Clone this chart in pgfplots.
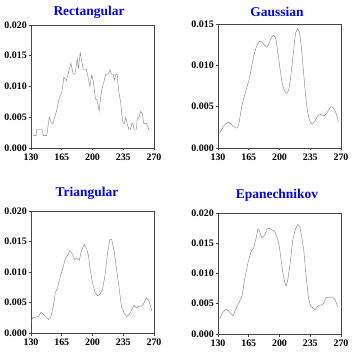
\documentclass[border=0pt]{standalone}
\usepackage{pgfplots}
\pgfplotsset{compat=1.18}
\usepackage{fontspec}
\setmainfont{Liberation Serif}
\definecolor{titleblue}{RGB}{0,0,255}
\definecolor{curvegray}{RGB}{125,125,125}
\definecolor{framegray}{RGB}{70,70,70}

\pgfplotsset{
  kernelpanel/.style={
    scale only axis,
    width=123bp,
    anchor=south west,
    xmin=130, xmax=270,
    ymin=0,
    xtick={130,165,200,235,270},
    scaled y ticks=false,
    axis line style={framegray, line width=0.9bp},
    tick style={framegray, line width=0.6bp},
    tick align=outside,
    major tick length=2.5bp,
    xtick pos=bottom, ytick pos=left,
    /pgf/number format/assume math mode=true,
    yticklabel style={font=\fontsize{10}{10}\selectfont\bfseries,
      /pgf/number format/fixed, /pgf/number format/fixed zerofill,
      /pgf/number format/precision=3, inner sep=0pt, xshift=-1.5bp},
    xticklabel style={font=\fontsize{10}{10}\selectfont\bfseries, inner sep=0pt, yshift=-3bp},
    cycle list={{curvegray, line width=0.6bp, mark=none}},
  },
}
\tikzset{paneltitle/.style={font=\fontsize{13.5}{14}\selectfont\bfseries, text=titleblue}}

\begin{document}
\begin{tikzpicture}[x=1bp, y=1bp]
\useasboundingbox (0,0) rectangle (356,360);

% Rectangular kernel
\begin{axis}[kernelpanel, at={(31bp,212bp)}, height=123bp, ymax=0.020,
  ytick={0,0.005,0.010,0.015,0.020}]
\addplot coordinates {
(132.6,0.0020) (135.7,0.0020) (136.4,0.0030) (142,0.0030) (143,0.0028)
(144,0.0020) (147.8,0.0020) (150.8,0.0050) (153.5,0.0040) (155,0.0040)
(157,0.0050) (159,0.0060) (162,0.0080) (165,0.0090) (167.5,0.0115)
(170.5,0.0110) (173,0.0125) (175.4,0.0138) (178,0.0120) (180,0.0120)
(182.6,0.0145) (184,0.0130) (186,0.0155) (189.4,0.0128) (193,0.0128)
(195,0.0115) (197,0.0100) (199,0.0118) (200.8,0.0110) (203.4,0.0080)
(205.3,0.0078) (207.6,0.0060) (209,0.0080) (211,0.0098) (212.5,0.0105)
(215,0.0120) (217.7,0.0120) (219.7,0.0127) (221.6,0.0120) (223.5,0.0120)
(225,0.0110) (226.5,0.0120) (228,0.0120) (230,0.0090) (232,0.0075)
(233.3,0.0055) (234.8,0.0040) (236.3,0.0040) (237.8,0.0050) (239.3,0.0040)
(241.6,0.0030) (243,0.0030) (245,0.0040) (246,0.0040) (247.3,0.0030)
(250,0.0030) (251,0.0048) (253,0.0050) (254.9,0.0060) (256.8,0.0055)
(258.3,0.0040) (261.3,0.0040) (264.3,0.0030) (265.8,0.0030)
};
\end{axis}

% Gaussian kernel
\begin{axis}[kernelpanel, at={(218bp,212bp)}, height=124bp, ymax=0.015,
  ytick={0,0.005,0.010,0.015}]
\addplot+[smooth] coordinates {
(131.9,0.00185) (137.6,0.0028) (142.1,0.0031) (145.9,0.0028) (150.8,0.0024)
(153.5,0.0028) (157.2,0.0051) (162.2,0.0071) (165.9,0.0085) (169.7,0.0106)
(173.5,0.0122) (177.3,0.0129) (181,0.0127) (184.9,0.0122) (187.5,0.0125)
(190.5,0.0133) (193.2,0.0136) (195.5,0.0133) (198.1,0.0116) (200.8,0.0094)
(203.8,0.0075) (207.6,0.0066) (210.6,0.0071) (213.2,0.0090) (215.9,0.0116)
(218.2,0.0138) (220.8,0.0144) (223.1,0.0137) (225.4,0.0116) (228.4,0.0079)
(231,0.0051) (234.1,0.0034) (237.1,0.0029) (240.5,0.0033) (244.3,0.0040)
(248,0.0040) (251,0.0039) (254.9,0.0044) (258.6,0.0050) (261.7,0.0048)
(264.3,0.0042) (267,0.0032)
};
\end{axis}

% Triangular kernel
\begin{axis}[kernelpanel, at={(31bp,27bp)}, height=122bp, ymax=0.020,
  ytick={0,0.005,0.010,0.015,0.020}]
\addplot coordinates {
(130,0.0019) (131.9,0.0025) (135.7,0.0026) (138.3,0.0027) (141.4,0.0034)
(144.4,0.0030) (147,0.0027) (150,0.0022) (152.7,0.0027) (155.4,0.0044)
(157.6,0.0066) (160.3,0.0074) (163.3,0.0093) (165.9,0.0104) (168.6,0.0120)
(171.6,0.0127) (174.3,0.0135) (177.3,0.0129) (179.9,0.0120) (181.8,0.0123)
(184.9,0.0119) (187.9,0.0137) (190.5,0.0145) (193.6,0.0137) (195.5,0.0126)
(197.4,0.0104) (200,0.0082) (203,0.0066) (205.7,0.0061) (208.3,0.0063)
(211.4,0.0071) (214.4,0.0096) (217,0.0129) (219.7,0.0153) (221.9,0.0153)
(224.6,0.0134) (227.2,0.0107) (230.3,0.0074) (232.9,0.0044) (235.9,0.0033)
(239,0.0027) (241.6,0.0030) (244.6,0.0038) (247.3,0.0045) (249.9,0.0041)
(252.9,0.0044) (256,0.0044) (258.6,0.0049) (261.3,0.0058) (264.3,0.0052)
(266.2,0.0044) (267.3,0.0036)
};
\end{axis}

% Epanechnikov kernel
\begin{axis}[kernelpanel, at={(218bp,26bp)}, height=121bp, ymax=0.020,
  ytick={0,0.005,0.010,0.015,0.020}]
\addplot coordinates {
(131.9,0.0025) (135.7,0.0036) (139.5,0.0041) (143.2,0.0036) (147,0.0030)
(150.8,0.0043) (154.6,0.0054) (157.2,0.0062) (160.3,0.0090) (164,0.0117)
(167.8,0.0137) (170.5,0.0142) (173.5,0.0159) (175.4,0.0174) (177.3,0.0170)
(179.9,0.0159) (183,0.0163) (186,0.0174) (188.6,0.0175) (191.3,0.0172)
(194.3,0.0170) (197,0.0161) (199.2,0.0150) (201.1,0.0131) (203.8,0.0101)
(205.7,0.0087) (207.6,0.0079) (209.5,0.0090) (212.1,0.0117) (215.1,0.0156)
(217.8,0.0172) (220.8,0.0181) (223.1,0.0178) (225.4,0.0159) (227.6,0.0139)
(230.3,0.0095) (232.9,0.0060) (235.2,0.0047) (237.8,0.0043) (240.5,0.0040)
(243.5,0.0046) (247.3,0.0048) (250,0.0050) (253,0.0060) (256.8,0.0061)
(260.5,0.0061) (263.2,0.0057) (266.2,0.0045)
};
\end{axis}

\node[paneltitle] at (89,348) {Rectangular};
\node[paneltitle] at (277,348) {Gaussian};
\node[paneltitle] at (87,167) {Triangular};
\node[paneltitle] at (277,165) {Epanechnikov};
\end{tikzpicture}
\end{document}
